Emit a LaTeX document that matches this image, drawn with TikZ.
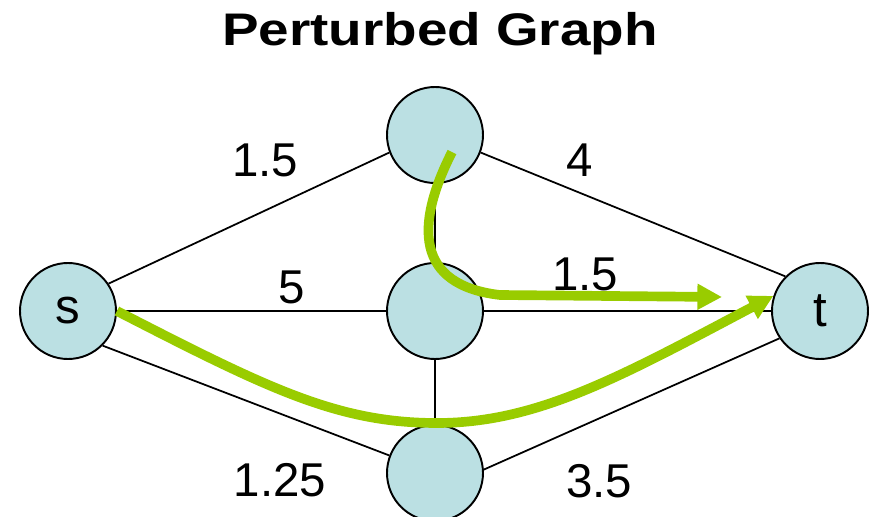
\documentclass[tikz,border=0pt]{standalone}
\usepackage{graphicx}
\usepackage{fontspec}
\setmainfont{Liberation Sans}
\usetikzlibrary{arrows.meta}
\definecolor{vtxblue}{RGB}{187,224,227}
\definecolor{pathgreen}{RGB}{153,204,0}

\begin{document}
\begin{tikzpicture}[>={Triangle[length=14pt,width=14pt]},
  vtx/.style={draw,circle,line width=1.1pt,fill=vtxblue,minimum size=1.92cm,inner sep=0pt,font=\fontsize{28}{30}\selectfont},
  wt/.style={inner sep=0pt,font=\fontsize{27}{29}\selectfont},
  edge/.style={line width=1pt},
  route/.style={->,pathgreen,line width=5.5pt}]
\clip (0,0) rectangle (17.48,10.32);
\node[anchor=base,font=\bfseries\fontsize{26}{30}\selectfont] (title) at (8.80,9.42) {\scalebox{1.2}[1]{Perturbed Graph}};
\node[vtx] (s) at (1.36,4.10) {s};
\node[vtx] (u) at (8.70,7.62) {};
\node[vtx] (v) at (8.70,4.10) {};
\node[vtx] (w) at (8.70,0.86) {};
\node[vtx] (t) at (16.40,4.10) {t};
\draw[edge] (s.34) -- (u.201); \draw[edge] (u.339) -- (t.135);
\draw[edge] (s) -- (v); \draw[edge] (v) -- (t);
\draw[edge] (s.315) -- (w.159); \draw[edge] (w.4) -- (t.214);
\draw[edge] (u) -- (v); \draw[edge] (v) -- (w);
\node[wt] (l1) at (5.30,7.12) {1.5};
\node[wt] (l2) at (11.60,7.12) {4};
\node[wt] (l3) at (5.84,4.58) {5};
\node[wt] (l4) at (11.70,4.84) {1.5};
\node[wt] (l5) at (5.60,0.72) {1.25};
\node[wt] (l6) at (11.98,0.70) {3.5};
% rerouted paths
\coordinate (p0) at (9.04,7.28);
\coordinate (p1) at (14.44,4.38);
\draw[route] (p0) .. controls (8.30,5.82) and (8.30,4.62) .. (10.00,4.42) -- (p1);
\draw[route] (s.east) .. controls (5.34,2.56) and (6.74,1.86) .. (8.74,1.86)
  .. controls (10.74,1.86) and (12.40,2.78) .. (t.162);
\end{tikzpicture}
\end{document}
